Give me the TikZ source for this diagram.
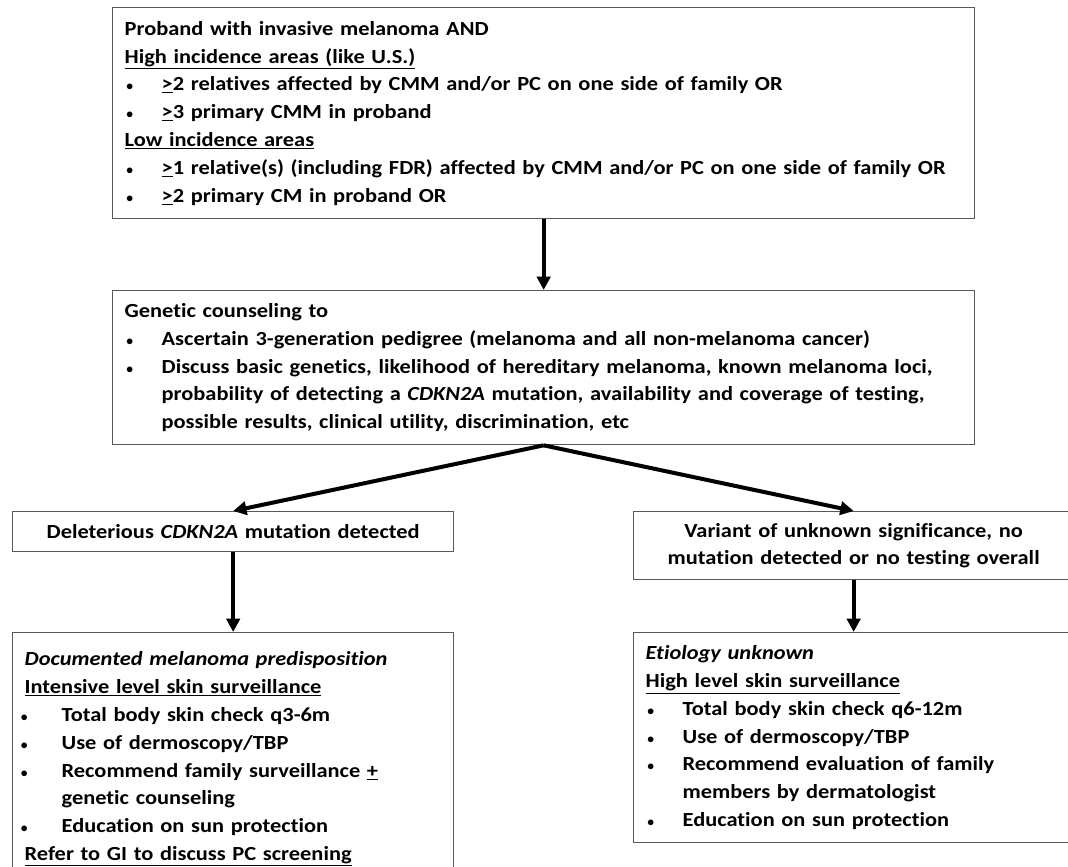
\documentclass[tikz,border=0pt]{standalone}
\usepackage{fontspec}
\setmainfont{Carlito}[Ligatures=NoCommon, FakeStretch=1.12]
\usetikzlibrary{arrows.meta}
\newcommand{\bul}{\makebox[27.75pt][l]{\hspace{1pt}$\scriptstyle\bullet$}}
\newcommand{\bulw}{\makebox[27.75pt][l]{\hspace{-3pt}$\scriptstyle\bullet$}}
\newcommand{\hng}{\hspace*{27.75pt}}
\tikzset{
	box/.style={draw=black!65, line width=1pt, anchor=north west, align=left, inner xsep=9pt,
		font=\fontsize{15pt}{20.85pt}\selectfont\bfseries},
	arr/.style={line width=3pt, -{Triangle[length=10pt,width=10pt]}}
}
\begin{document}
\begin{tikzpicture}[x=0.75pt,y=-0.75pt]
			\clip (0,0) rectangle (1068,867);
			\node[box, minimum width=646.5pt, minimum height=158.25pt, text width=628.5pt] (top) at (112,7) {Proband with invasive melanoma AND\\
				\underline{High incidence areas (like U.S.)}\\
				\bul\underline{>}2 relatives affected by CMM and/or PC on one side of family OR\\
				\bul\underline{>}3 primary CMM in proband\\
				\underline{Low incidence areas}\\
				\bul\underline{>}1 relative(s) (including FDR) affected by CMM and/or PC on one side of family OR\\
				\bul\underline{>}2 primary CM in proband OR};
			\node[box, minimum width=646.5pt, minimum height=115.5pt, text width=628.5pt] (gen) at (112,290) {Genetic counseling to\\
				\bul Ascertain 3-generation pedigree (melanoma and all non-melanoma cancer)\\
				\bul Discuss basic genetics, likelihood of hereditary melanoma, known melanoma loci,\\
				\hng probability of detecting a \textit{CDKN2A} mutation, availability and coverage of testing,\\
				\hng possible results, clinical utility, discrimination, etc};
			\node[box, align=center, minimum width=330.75pt, minimum height=30pt, text width=312.75pt] (del) at (12,511) {Deleterious \textit{CDKN2A} mutation detected};
			\node[box, align=center, minimum width=330pt, minimum height=51pt, text width=312pt] (var) at (633,511) {Variant of unknown significance, no\\
				mutation detected or no testing overall};
			\node[box, minimum width=330.75pt, minimum height=189.75pt, text width=312.75pt] (doc) at (12,632) {\textit{Documented melanoma predisposition}\\
				\underline{Intensive level skin surveillance}\\
				\bulw Total body skin check q3-6m\\
				\bulw Use of dermoscopy/TBP\\
				\bulw Recommend family surveillance \underline{+}\\
				\hng genetic counseling\\
				\bulw Education on sun protection\\
				\underline{Refer to GI to discuss PC screening}};
			\node[box, minimum width=330pt, minimum height=157.5pt, text width=312pt] (etio) at (633,632) {\textit{Etiology unknown}\\
				\underline{High level skin surveillance}\\
				\bul Total body skin check q6-12m\\
				\bul Use of dermoscopy/TBP\\
				\bul Recommend evaluation of family\\
				\hng members by dermatologist\\
				\bul Education on sun protection};
			\draw[arr] (top.south) -- (gen.north);
			\draw[arr] (gen.south) -- (del.north);
			\draw[arr] (gen.south) -- (var.north);
			\draw[arr] (del.south) -- (doc.north);
			\draw[arr] (var.south) -- (etio.north);
		\end{tikzpicture}
\end{document}
